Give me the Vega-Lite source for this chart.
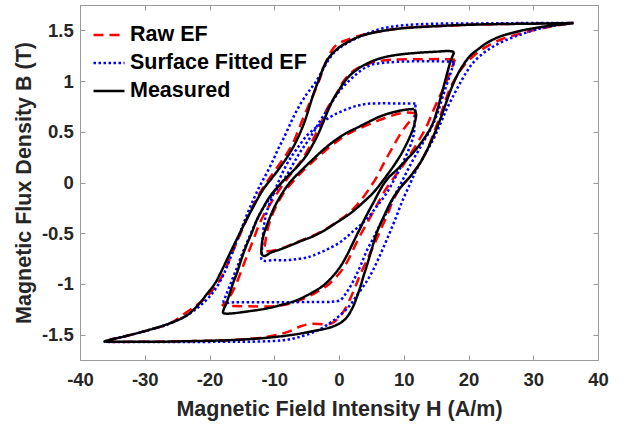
{
"$schema": "https://vega.github.io/schema/vega-lite/v6.json",
"width": 518, "height": 355,
"autosize": {"type": "none"},
"padding": {"left": 80, "top": 5, "right": 26, "bottom": 66},
"background": "white",
"config": {
  "view": {"stroke": "#9a9a9a", "strokeWidth": 1},
  "font": "Liberation Sans",
  "axis": {"grid": false, "domain": false, "tickColor": "#9a9a9a", "tickSize": -5, "tickWidth": 1,
    "labelFont": "Liberation Sans", "labelFontWeight": "bold", "labelFontSize": 18.5, "labelColor": "#262626",
    "titleFont": "Liberation Sans", "titleFontWeight": "bold", "titleFontSize": 21.5, "titleColor": "#262626",
    "labelFlush": false, "labelOverlap": false},
  "axisBottom": {"labelPadding": 15, "titlePadding": 10},
  "axisLeft": {"labelPadding": 11.7, "titlePadding": 6},
  "legend": {"orient": "none", "legendX": 12, "legendY": 13, "padding": 0, "title": null,
    "symbolType": "stroke", "symbolSize": 961, "symbolStrokeWidth": 2.5, "rowPadding": -3.5,
    "labelFont": "Liberation Sans", "labelFontSize": 21.5, "labelFontWeight": "bold", "labelColor": "#000000", "labelOffset": 4, "labelLimit": 0}
},
"datasets": {
"raw": [
{"l":1,"h":36.2,"b":1.572},{"l":1,"h":30,"b":1.566},{"l":1,"h":25,"b":1.562},{"l":1,"h":20,"b":1.555},{"l":1,"h":15,"b":1.54},{"l":1,"h":10,"b":1.522},{"l":1,"h":6.8,"b":1.495},{"l":1,"h":4.5,"b":1.47},{"l":1,"h":2.5,"b":1.435},{"l":1,"h":1,"b":1.4},{"l":1,"h":0,"b":1.375},{"l":1,"h":-0.8,"b":1.33},{"l":1,"h":-1.5,"b":1.26},{"l":1,"h":-2.1,"b":1.17},{"l":1,"h":-2.7,"b":1.07},{"l":1,"h":-3.4,"b":0.95},{"l":1,"h":-4.5,"b":0.79},{"l":1,"h":-5.3,"b":0.67},{"l":1,"h":-6,"b":0.56},{"l":1,"h":-7.1,"b":0.39},{"l":1,"h":-8.1,"b":0.28},{"l":1,"h":-9.1,"b":0.19},{"l":1,"h":-10.2,"b":0.09},{"l":1,"h":-11.2,"b":0},{"l":1,"h":-12.2,"b":-0.1},{"l":1,"h":-13.2,"b":-0.22},{"l":1,"h":-14.5,"b":-0.4},{"l":1,"h":-15.8,"b":-0.59},{"l":1,"h":-16.6,"b":-0.71},{"l":1,"h":-17.3,"b":-0.82},{"l":1,"h":-18.3,"b":-0.95},{"l":1,"h":-19.4,"b":-1.05},{"l":1,"h":-20.6,"b":-1.14},{"l":1,"h":-22,"b":-1.21},{"l":1,"h":-24,"b":-1.3},{"l":1,"h":-26.1,"b":-1.39},{"l":1,"h":-29.7,"b":-1.46},{"l":1,"h":-33,"b":-1.515},{"l":1,"h":-35.3,"b":-1.55},{"l":1,"h":-36.2,"b":-1.566},
{"l":1,"h":-35.6,"b":-1.57},{"l":1,"h":-30,"b":-1.57},{"l":1,"h":-22,"b":-1.563},{"l":1,"h":-16,"b":-1.552},{"l":1,"h":-11,"b":-1.52},{"l":1,"h":-8,"b":-1.475},{"l":1,"h":-6,"b":-1.42},{"l":1,"h":-4.5,"b":-1.395},{"l":1,"h":-1.2,"b":-1.39},{"l":1,"h":0,"b":-1.33},{"l":1,"h":0.9,"b":-1.25},{"l":1,"h":1.7,"b":-1.15},{"l":1,"h":2.5,"b":-1.03},{"l":1,"h":3.2,"b":-0.92},{"l":1,"h":4.5,"b":-0.74},{"l":1,"h":5.8,"b":-0.56},{"l":1,"h":6.6,"b":-0.44},{"l":1,"h":7.4,"b":-0.33},{"l":1,"h":8.4,"b":-0.17},{"l":1,"h":9.5,"b":-0.05},{"l":1,"h":11,"b":0.06},{"l":1,"h":12.4,"b":0.18},{"l":1,"h":13.6,"b":0.32},{"l":1,"h":14.7,"b":0.5},{"l":1,"h":15.6,"b":0.65},{"l":1,"h":16.4,"b":0.8},{"l":1,"h":17.1,"b":0.92},{"l":1,"h":18.1,"b":1.04},{"l":1,"h":19.2,"b":1.145},{"l":1,"h":20.8,"b":1.25},{"l":1,"h":22.8,"b":1.34},{"l":1,"h":25,"b":1.41},{"l":1,"h":27.4,"b":1.457},{"l":1,"h":30,"b":1.5},{"l":1,"h":33,"b":1.54},{"l":1,"h":35.5,"b":1.566},{"l":1,"h":36.2,"b":1.572},
{"l":2,"h":17.9,"b":1.21},{"l":2,"h":17,"b":1.215},{"l":2,"h":12,"b":1.215},{"l":2,"h":8,"b":1.21},{"l":2,"h":6,"b":1.195},{"l":2,"h":5,"b":1.18},{"l":2,"h":3.8,"b":1.15},{"l":2,"h":3,"b":1.13},{"l":2,"h":2,"b":1.09},{"l":2,"h":1.2,"b":1.04},{"l":2,"h":0.5,"b":0.98},{"l":2,"h":0,"b":0.92},{"l":2,"h":-0.8,"b":0.83},{"l":2,"h":-1.9,"b":0.72},{"l":2,"h":-2.8,"b":0.58},{"l":2,"h":-3.5,"b":0.49},{"l":2,"h":-4.2,"b":0.4},{"l":2,"h":-5,"b":0.3},{"l":2,"h":-6,"b":0.2},{"l":2,"h":-7.1,"b":0.11},{"l":2,"h":-8.2,"b":0.02},{"l":2,"h":-9.5,"b":-0.1},{"l":2,"h":-10.6,"b":-0.21},{"l":2,"h":-11.7,"b":-0.33},{"l":2,"h":-12.5,"b":-0.44},{"l":2,"h":-13.2,"b":-0.56},{"l":2,"h":-14,"b":-0.69},{"l":2,"h":-14.8,"b":-0.82},{"l":2,"h":-15.5,"b":-0.94},{"l":2,"h":-16.3,"b":-1.06},{"l":2,"h":-17,"b":-1.14},{"l":2,"h":-17.6,"b":-1.19},{"l":2,"h":-18,"b":-1.21},
{"l":2,"h":-17,"b":-1.215},{"l":2,"h":-14,"b":-1.22},{"l":2,"h":-10,"b":-1.22},{"l":2,"h":-8,"b":-1.2},{"l":2,"h":-6,"b":-1.16},{"l":2,"h":-4,"b":-1.1},{"l":2,"h":-1.9,"b":-1.02},{"l":2,"h":0,"b":-0.9},{"l":2,"h":1.2,"b":-0.79},{"l":2,"h":2.2,"b":-0.66},{"l":2,"h":3.2,"b":-0.53},{"l":2,"h":4.5,"b":-0.38},{"l":2,"h":5.8,"b":-0.23},{"l":2,"h":7,"b":-0.09},{"l":2,"h":8.5,"b":0.05},{"l":2,"h":10,"b":0.18},{"l":2,"h":12,"b":0.38},{"l":2,"h":13.5,"b":0.55},{"l":2,"h":14.5,"b":0.7},{"l":2,"h":15.4,"b":0.83},{"l":2,"h":16.3,"b":0.95},{"l":2,"h":17.1,"b":1.08},{"l":2,"h":17.6,"b":1.16},{"l":2,"h":17.9,"b":1.21},
{"l":3,"h":12,"b":0.68},{"l":3,"h":10.5,"b":0.69},{"l":3,"h":9,"b":0.675},{"l":3,"h":7.5,"b":0.645},{"l":3,"h":6,"b":0.61},{"l":3,"h":3.8,"b":0.55},{"l":3,"h":2,"b":0.5},{"l":3,"h":0,"b":0.42},{"l":3,"h":-2,"b":0.32},{"l":3,"h":-4,"b":0.21},{"l":3,"h":-5.8,"b":0.1},{"l":3,"h":-7.1,"b":0.01},{"l":3,"h":-8.5,"b":-0.1},{"l":3,"h":-9.6,"b":-0.22},{"l":3,"h":-10.5,"b":-0.35},{"l":3,"h":-11.1,"b":-0.48},{"l":3,"h":-11.4,"b":-0.6},{"l":3,"h":-11.5,"b":-0.67},
{"l":3,"h":-10.5,"b":-0.675},{"l":3,"h":-9.1,"b":-0.655},{"l":3,"h":-7.5,"b":-0.615},{"l":3,"h":-5.8,"b":-0.57},{"l":3,"h":-4,"b":-0.525},{"l":3,"h":-2.2,"b":-0.465},{"l":3,"h":-0.5,"b":-0.395},{"l":3,"h":1.2,"b":-0.32},{"l":3,"h":2.5,"b":-0.24},{"l":3,"h":3.8,"b":-0.14},{"l":3,"h":5,"b":-0.03},{"l":3,"h":5.8,"b":0.05},{"l":3,"h":7,"b":0.2},{"l":3,"h":8.4,"b":0.36},{"l":3,"h":9.7,"b":0.5},{"l":3,"h":11,"b":0.61},{"l":3,"h":12,"b":0.68}
],
"fit": [
{"l":1,"h":36.2,"b":1.572},{"l":1,"h":33,"b":1.572},{"l":1,"h":29,"b":1.572},{"l":1,"h":24.9,"b":1.57},{"l":1,"h":20,"b":1.568},{"l":1,"h":14.6,"b":1.565},{"l":1,"h":10,"b":1.55},{"l":1,"h":6.8,"b":1.52},{"l":1,"h":4,"b":1.46},{"l":1,"h":1.7,"b":1.39},{"l":1,"h":0.4,"b":1.34},{"l":1,"h":-0.9,"b":1.27},{"l":1,"h":-1.9,"b":1.18},{"l":1,"h":-2.7,"b":1.09},{"l":1,"h":-3.5,"b":1.0},{"l":1,"h":-4.3,"b":0.93},{"l":1,"h":-5,"b":0.87},{"l":1,"h":-6,"b":0.77},{"l":1,"h":-7,"b":0.65},{"l":1,"h":-7.8,"b":0.54},{"l":1,"h":-8.6,"b":0.43},{"l":1,"h":-9.4,"b":0.33},{"l":1,"h":-10.1,"b":0.23},{"l":1,"h":-11.1,"b":0.1},{"l":1,"h":-12.2,"b":-0.03},{"l":1,"h":-13.3,"b":-0.18},{"l":1,"h":-14.3,"b":-0.33},{"l":1,"h":-15.2,"b":-0.48},{"l":1,"h":-16.1,"b":-0.63},{"l":1,"h":-17,"b":-0.78},{"l":1,"h":-18,"b":-0.93},{"l":1,"h":-19.4,"b":-1.08},{"l":1,"h":-21,"b":-1.19},{"l":1,"h":-23,"b":-1.29},{"l":1,"h":-26.1,"b":-1.39},{"l":1,"h":-29.7,"b":-1.46},{"l":1,"h":-33,"b":-1.515},{"l":1,"h":-35.3,"b":-1.55},{"l":1,"h":-36.2,"b":-1.57},
{"l":1,"h":-35,"b":-1.572},{"l":1,"h":-30,"b":-1.572},{"l":1,"h":-24,"b":-1.572},{"l":1,"h":-18,"b":-1.571},{"l":1,"h":-14,"b":-1.57},{"l":1,"h":-10,"b":-1.562},{"l":1,"h":-8,"b":-1.55},{"l":1,"h":-6.5,"b":-1.53},{"l":1,"h":-4.5,"b":-1.49},{"l":1,"h":-2.9,"b":-1.445},{"l":1,"h":-1.3,"b":-1.38},{"l":1,"h":0.15,"b":-1.31},{"l":1,"h":1.7,"b":-1.21},{"l":1,"h":2.7,"b":-1.12},{"l":1,"h":3.8,"b":-1.02},{"l":1,"h":4.8,"b":-0.92},{"l":1,"h":6.1,"b":-0.75},{"l":1,"h":7.4,"b":-0.56},{"l":1,"h":8.7,"b":-0.36},{"l":1,"h":9.9,"b":-0.165},{"l":1,"h":11,"b":-0.01},{"l":1,"h":12,"b":0.13},{"l":1,"h":13.3,"b":0.28},{"l":1,"h":14.6,"b":0.43},{"l":1,"h":15.6,"b":0.57},{"l":1,"h":16.6,"b":0.72},{"l":1,"h":17.7,"b":0.86},{"l":1,"h":18.7,"b":0.98},{"l":1,"h":19.7,"b":1.09},{"l":1,"h":20.7,"b":1.18},{"l":1,"h":22.2,"b":1.27},{"l":1,"h":23.8,"b":1.34},{"l":1,"h":26,"b":1.41},{"l":1,"h":28,"b":1.457},{"l":1,"h":30,"b":1.5},{"l":1,"h":32.6,"b":1.54},{"l":1,"h":34.6,"b":1.56},{"l":1,"h":36.2,"b":1.572},
{"l":2,"h":17.8,"b":1.19},{"l":2,"h":15,"b":1.195},{"l":2,"h":12,"b":1.195},{"l":2,"h":9,"b":1.19},{"l":2,"h":7,"b":1.18},{"l":2,"h":5,"b":1.16},{"l":2,"h":3.5,"b":1.11},{"l":2,"h":2.2,"b":1.04},{"l":2,"h":1.2,"b":0.98},{"l":2,"h":0.3,"b":0.92},{"l":2,"h":-0.5,"b":0.85},{"l":2,"h":-1.3,"b":0.77},{"l":2,"h":-2,"b":0.7},{"l":2,"h":-2.9,"b":0.61},{"l":2,"h":-3.9,"b":0.5},{"l":2,"h":-4.9,"b":0.4},{"l":2,"h":-6,"b":0.3},{"l":2,"h":-7.1,"b":0.18},{"l":2,"h":-8.2,"b":0.06},{"l":2,"h":-9.4,"b":-0.05},{"l":2,"h":-10.6,"b":-0.15},{"l":2,"h":-11.7,"b":-0.25},{"l":2,"h":-12.6,"b":-0.36},{"l":2,"h":-13.4,"b":-0.47},{"l":2,"h":-14.2,"b":-0.59},{"l":2,"h":-15,"b":-0.71},{"l":2,"h":-15.7,"b":-0.83},{"l":2,"h":-16.4,"b":-0.94},{"l":2,"h":-17,"b":-1.04},{"l":2,"h":-17.5,"b":-1.12},{"l":2,"h":-17.8,"b":-1.18},
{"l":2,"h":-16,"b":-1.18},{"l":2,"h":-12,"b":-1.18},{"l":2,"h":-8,"b":-1.18},{"l":2,"h":-4,"b":-1.178},{"l":2,"h":-1,"b":-1.175},{"l":2,"h":0.2,"b":-1.16},{"l":2,"h":1,"b":-1.1},{"l":2,"h":1.8,"b":-1.02},{"l":2,"h":2.6,"b":-0.92},{"l":2,"h":3.4,"b":-0.81},{"l":2,"h":4.3,"b":-0.67},{"l":2,"h":5.3,"b":-0.55},{"l":2,"h":6.3,"b":-0.42},{"l":2,"h":7.4,"b":-0.29},{"l":2,"h":8.4,"b":-0.15},{"l":2,"h":9.4,"b":-0.03},{"l":2,"h":10.5,"b":0.11},{"l":2,"h":11.5,"b":0.23},{"l":2,"h":12.6,"b":0.35},{"l":2,"h":13.4,"b":0.44},{"l":2,"h":14.1,"b":0.52},{"l":2,"h":14.7,"b":0.6},{"l":2,"h":15.3,"b":0.7},{"l":2,"h":15.9,"b":0.82},{"l":2,"h":16.5,"b":0.94},{"l":2,"h":17.1,"b":1.05},{"l":2,"h":17.5,"b":1.13},{"l":2,"h":17.8,"b":1.19},
{"l":3,"h":11.8,"b":0.78},{"l":3,"h":10,"b":0.78},{"l":3,"h":8,"b":0.78},{"l":3,"h":6,"b":0.78},{"l":3,"h":4.3,"b":0.775},{"l":3,"h":3,"b":0.76},{"l":3,"h":1.5,"b":0.73},{"l":3,"h":0,"b":0.69},{"l":3,"h":-1.4,"b":0.645},{"l":3,"h":-3.2,"b":0.56},{"l":3,"h":-5,"b":0.46},{"l":3,"h":-6.4,"b":0.34},{"l":3,"h":-7.6,"b":0.23},{"l":3,"h":-8.7,"b":0.1},{"l":3,"h":-9.6,"b":-0.03},{"l":3,"h":-10.5,"b":-0.17},{"l":3,"h":-11.2,"b":-0.3},{"l":3,"h":-11.6,"b":-0.43},{"l":3,"h":-11.8,"b":-0.56},{"l":3,"h":-11.9,"b":-0.68},{"l":3,"h":-11.9,"b":-0.765},
{"l":3,"h":-10,"b":-0.765},{"l":3,"h":-8,"b":-0.765},{"l":3,"h":-6.5,"b":-0.755},{"l":3,"h":-5,"b":-0.74},{"l":3,"h":-4,"b":-0.72},{"l":3,"h":-2,"b":-0.665},{"l":3,"h":0.15,"b":-0.59},{"l":3,"h":2.2,"b":-0.48},{"l":3,"h":4.3,"b":-0.36},{"l":3,"h":5.9,"b":-0.23},{"l":3,"h":7.4,"b":-0.1},{"l":3,"h":8.7,"b":0.05},{"l":3,"h":9.9,"b":0.2},{"l":3,"h":10.8,"b":0.33},{"l":3,"h":11.5,"b":0.46},{"l":3,"h":11.7,"b":0.6},{"l":3,"h":11.8,"b":0.72},{"l":3,"h":11.8,"b":0.78}
],
"meas": [
{"l":1,"h":36.2,"b":1.572},{"l":1,"h":33,"b":1.569},{"l":1,"h":30,"b":1.566},{"l":1,"h":25,"b":1.562},{"l":1,"h":20,"b":1.555},{"l":1,"h":14.6,"b":1.54},{"l":1,"h":10,"b":1.522},{"l":1,"h":6.8,"b":1.495},{"l":1,"h":4.5,"b":1.465},{"l":1,"h":3,"b":1.435},{"l":1,"h":1.5,"b":1.39},{"l":1,"h":0.2,"b":1.34},{"l":1,"h":-0.9,"b":1.28},{"l":1,"h":-1.8,"b":1.21},{"l":1,"h":-2.5,"b":1.12},{"l":1,"h":-3,"b":1.03},{"l":1,"h":-3.5,"b":0.95},{"l":1,"h":-4,"b":0.86},{"l":1,"h":-4.6,"b":0.74},{"l":1,"h":-5.2,"b":0.62},{"l":1,"h":-6,"b":0.49},{"l":1,"h":-6.9,"b":0.37},{"l":1,"h":-7.9,"b":0.26},{"l":1,"h":-9.1,"b":0.15},{"l":1,"h":-10.4,"b":0.04},{"l":1,"h":-11.4,"b":-0.04},{"l":1,"h":-12.3,"b":-0.13},{"l":1,"h":-13.4,"b":-0.26},{"l":1,"h":-14.4,"b":-0.38},{"l":1,"h":-15.4,"b":-0.51},{"l":1,"h":-16.4,"b":-0.64},{"l":1,"h":-17.3,"b":-0.76},{"l":1,"h":-18.2,"b":-0.88},{"l":1,"h":-19.2,"b":-1.0},{"l":1,"h":-20.4,"b":-1.1},{"l":1,"h":-21.8,"b":-1.21},{"l":1,"h":-23.5,"b":-1.31},{"l":1,"h":-26,"b":-1.385},{"l":1,"h":-29.7,"b":-1.46},{"l":1,"h":-33,"b":-1.515},{"l":1,"h":-35.3,"b":-1.55},{"l":1,"h":-36.2,"b":-1.566},
{"l":1,"h":-35.6,"b":-1.57},{"l":1,"h":-33,"b":-1.571},{"l":1,"h":-28,"b":-1.57},{"l":1,"h":-22,"b":-1.563},{"l":1,"h":-16,"b":-1.552},{"l":1,"h":-11,"b":-1.53},{"l":1,"h":-7,"b":-1.5},{"l":1,"h":-4,"b":-1.465},{"l":1,"h":-1.4,"b":-1.43},{"l":1,"h":0.2,"b":-1.385},{"l":1,"h":1.2,"b":-1.33},{"l":1,"h":2.2,"b":-1.22},{"l":1,"h":2.8,"b":-1.12},{"l":1,"h":3.3,"b":-1.03},{"l":1,"h":3.8,"b":-0.92},{"l":1,"h":4.3,"b":-0.82},{"l":1,"h":5,"b":-0.67},{"l":1,"h":5.8,"b":-0.5},{"l":1,"h":7.1,"b":-0.31},{"l":1,"h":8.2,"b":-0.17},{"l":1,"h":9.5,"b":-0.05},{"l":1,"h":11,"b":0.06},{"l":1,"h":12.4,"b":0.18},{"l":1,"h":13.6,"b":0.32},{"l":1,"h":14.6,"b":0.46},{"l":1,"h":15.5,"b":0.6},{"l":1,"h":16.4,"b":0.76},{"l":1,"h":17.3,"b":0.92},{"l":1,"h":18.2,"b":1.05},{"l":1,"h":19.2,"b":1.16},{"l":1,"h":20.2,"b":1.245},{"l":1,"h":21.5,"b":1.315},{"l":1,"h":22.8,"b":1.375},{"l":1,"h":24.5,"b":1.43},{"l":1,"h":26,"b":1.462},{"l":1,"h":28,"b":1.495},{"l":1,"h":30,"b":1.52},{"l":1,"h":32,"b":1.54},{"l":1,"h":34.1,"b":1.556},{"l":1,"h":35.5,"b":1.566},{"l":1,"h":36.2,"b":1.572},
{"l":2,"h":17.8,"b":1.285},{"l":2,"h":17.2,"b":1.295},{"l":2,"h":14.6,"b":1.288},{"l":2,"h":12,"b":1.278},{"l":2,"h":9.4,"b":1.262},{"l":2,"h":7,"b":1.235},{"l":2,"h":5.3,"b":1.2},{"l":2,"h":3.8,"b":1.155},{"l":2,"h":2.7,"b":1.11},{"l":2,"h":1.6,"b":1.05},{"l":2,"h":0.7,"b":0.98},{"l":2,"h":-0.1,"b":0.9},{"l":2,"h":-0.9,"b":0.82},{"l":2,"h":-1.7,"b":0.71},{"l":2,"h":-2.4,"b":0.6},{"l":2,"h":-3.2,"b":0.48},{"l":2,"h":-4,"b":0.38},{"l":2,"h":-5,"b":0.27},{"l":2,"h":-6.4,"b":0.16},{"l":2,"h":-8.1,"b":0.05},{"l":2,"h":-9.4,"b":-0.04},{"l":2,"h":-10.7,"b":-0.14},{"l":2,"h":-11.8,"b":-0.26},{"l":2,"h":-12.7,"b":-0.37},{"l":2,"h":-13.5,"b":-0.5},{"l":2,"h":-14.3,"b":-0.62},{"l":2,"h":-15.1,"b":-0.76},{"l":2,"h":-15.7,"b":-0.88},{"l":2,"h":-16.4,"b":-1.0},{"l":2,"h":-16.9,"b":-1.1},{"l":2,"h":-17.4,"b":-1.19},{"l":2,"h":-17.8,"b":-1.25},{"l":2,"h":-17.9,"b":-1.285},
{"l":2,"h":-17.3,"b":-1.293},{"l":2,"h":-14,"b":-1.27},{"l":2,"h":-11,"b":-1.24},{"l":2,"h":-9.1,"b":-1.21},{"l":2,"h":-6.5,"b":-1.16},{"l":2,"h":-4,"b":-1.08},{"l":2,"h":-2.3,"b":-1.01},{"l":2,"h":-0.9,"b":-0.92},{"l":2,"h":0.2,"b":-0.83},{"l":2,"h":1.2,"b":-0.72},{"l":2,"h":2.2,"b":-0.59},{"l":2,"h":3.2,"b":-0.46},{"l":2,"h":4.2,"b":-0.33},{"l":2,"h":5.3,"b":-0.2},{"l":2,"h":6.3,"b":-0.08},{"l":2,"h":7.4,"b":0.03},{"l":2,"h":9,"b":0.13},{"l":2,"h":10.5,"b":0.23},{"l":2,"h":11.8,"b":0.32},{"l":2,"h":13,"b":0.42},{"l":2,"h":14,"b":0.52},{"l":2,"h":14.6,"b":0.6},{"l":2,"h":15.2,"b":0.72},{"l":2,"h":15.8,"b":0.86},{"l":2,"h":16.3,"b":0.98},{"l":2,"h":16.8,"b":1.1},{"l":2,"h":17.3,"b":1.21},{"l":2,"h":17.7,"b":1.27},{"l":2,"h":17.8,"b":1.285},
{"l":3,"h":11.6,"b":0.725},{"l":3,"h":10,"b":0.715},{"l":3,"h":8.2,"b":0.69},{"l":3,"h":6.3,"b":0.65},{"l":3,"h":4.5,"b":0.595},{"l":3,"h":2.8,"b":0.54},{"l":3,"h":1.2,"b":0.49},{"l":3,"h":-0.5,"b":0.42},{"l":3,"h":-2.3,"b":0.33},{"l":3,"h":-4,"b":0.23},{"l":3,"h":-5.8,"b":0.12},{"l":3,"h":-7.6,"b":0},{"l":3,"h":-8.9,"b":-0.12},{"l":3,"h":-10.1,"b":-0.26},{"l":3,"h":-11,"b":-0.4},{"l":3,"h":-11.7,"b":-0.53},{"l":3,"h":-11.95,"b":-0.63},{"l":3,"h":-11.9,"b":-0.71},{"l":3,"h":-11.5,"b":-0.725},
{"l":3,"h":-10.5,"b":-0.69},{"l":3,"h":-9.1,"b":-0.66},{"l":3,"h":-7.5,"b":-0.62},{"l":3,"h":-5.8,"b":-0.575},{"l":3,"h":-4,"b":-0.53},{"l":3,"h":-2.2,"b":-0.47},{"l":3,"h":-0.5,"b":-0.4},{"l":3,"h":1.2,"b":-0.33},{"l":3,"h":2.7,"b":-0.255},{"l":3,"h":4,"b":-0.18},{"l":3,"h":5.3,"b":-0.1},{"l":3,"h":6.8,"b":0.02},{"l":3,"h":8.4,"b":0.16},{"l":3,"h":9.6,"b":0.28},{"l":3,"h":10.5,"b":0.39},{"l":3,"h":11.2,"b":0.49},{"l":3,"h":11.7,"b":0.59},{"l":3,"h":11.9,"b":0.67},{"l":3,"h":11.6,"b":0.725}
]
},
"layer": [
  {"data": {"name": "raw"},
   "mark": {"type": "line", "strokeWidth": 2.5, "interpolate": "catmull-rom"},
   "encoding": {
     "x": {"field": "h", "type": "quantitative", "scale": {"domain": [-40, 40], "nice": false, "zero": false},
       "axis": {"orient": "top", "labels": false, "title": null, "values": [-40,-30,-20,-10,0,10,20,30,40]}},
     "y": {"field": "b", "type": "quantitative", "scale": {"domain": [-1.75, 1.75], "nice": false, "zero": false},
       "axis": {"orient": "right", "labels": false, "title": null, "values": [-1.5,-1,-0.5,0,0.5,1,1.5]}},
     "detail": {"field": "l", "type": "nominal"},
     "order": {"value": null},
     "color": {"datum": "Raw EF", "type": "nominal", "scale": {"domain": ["Raw EF", "Surface Fitted EF", "Measured"], "range": ["#ff0000", "#0000ff", "#000000"]}},
     "strokeDash": {"datum": "Raw EF", "type": "nominal", "scale": {"domain": ["Raw EF", "Surface Fitted EF", "Measured"], "range": [[10, 6], [2.5, 2.5], [1, 0]]}}
   }},
  {"data": {"name": "fit"},
   "mark": {"type": "line", "strokeWidth": 2.5, "interpolate": "catmull-rom"},
   "encoding": {
     "x": {"field": "h", "type": "quantitative", "axis": null},
     "y": {"field": "b", "type": "quantitative", "axis": null},
     "detail": {"field": "l", "type": "nominal"},
     "order": {"value": null},
     "color": {"datum": "Surface Fitted EF", "type": "nominal"},
     "strokeDash": {"datum": "Surface Fitted EF", "type": "nominal"}
   }},
  {"data": {"name": "meas"},
   "mark": {"type": "line", "strokeWidth": 2.5, "interpolate": "catmull-rom"},
   "encoding": {
     "x": {"field": "h", "type": "quantitative",
       "axis": {"orient": "bottom", "title": "Magnetic Field Intensity H (A/m)", "values": [-40,-30,-20,-10,0,10,20,30,40], "labelExpr": "'' + datum.value"}},
     "y": {"field": "b", "type": "quantitative",
       "axis": {"orient": "left", "title": "Magnetic Flux Density B (T)", "values": [-1.5,-1,-0.5,0,0.5,1,1.5], "labelExpr": "'' + datum.value"}},
     "detail": {"field": "l", "type": "nominal"},
     "order": {"value": null},
     "color": {"datum": "Measured", "type": "nominal"},
     "strokeDash": {"datum": "Measured", "type": "nominal"}
   }}
],
"resolve": {"axis": {"x": "independent", "y": "independent"}}
}
